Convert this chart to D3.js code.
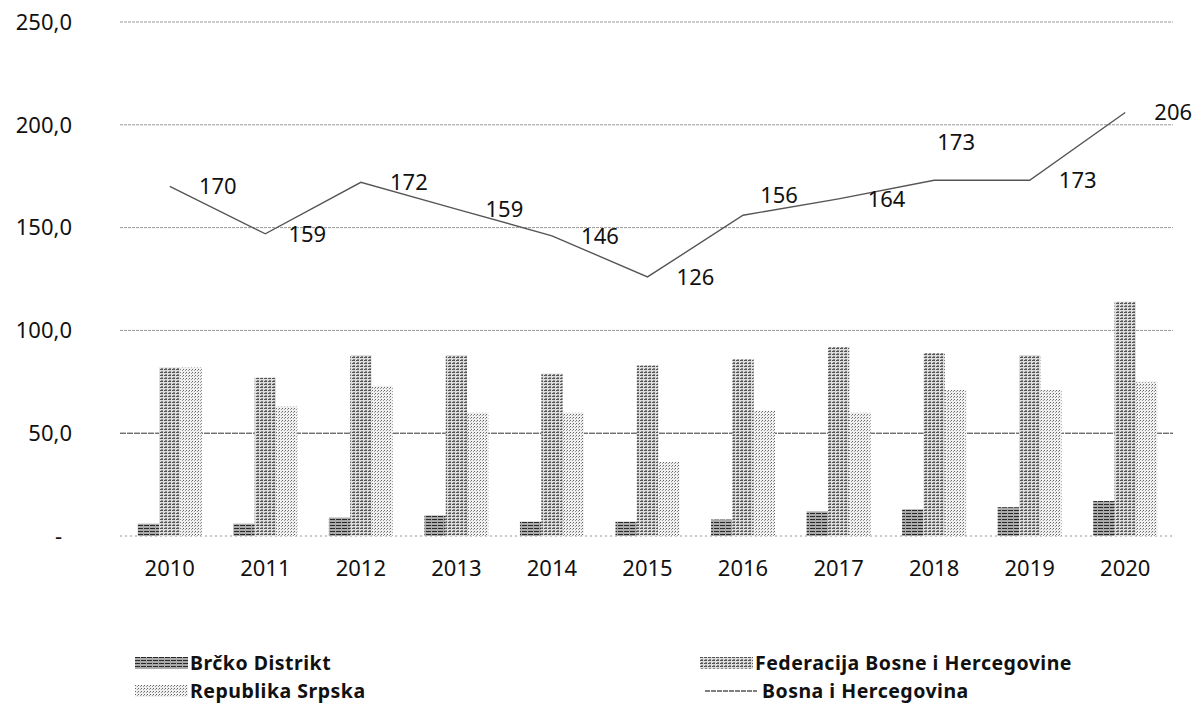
<!DOCTYPE html>
<html lang="bs">
<head>
  <meta charset="UTF-8">
  <title>Bosna i Hercegovina 2010-2020</title>
  <style>
    body {
      margin: 0;
      background: #fff;
    }
    svg {
      display: block;
      font-family: "Noto Sans", sans-serif;
    }
    .tick-label {
      font-size: 22px;
      fill: #111;
    }
    .value-label {
      font-size: 22px;
      fill: #111;
    }
    .legend text {
      font-size: 19.5px;
      font-weight: bold;
      letter-spacing: 0.5px;
      fill: #111;
    }
    .total-line {
      fill: none;
      stroke: #555;
      stroke-width: 1.4px;
    }
  </style>
</head>
<body>
  <svg width="1195" height="705"></svg>
  <script src="https://d3js.org/d3.v7.min.js"></script>
  <script>
    const years = ["2010", "2011", "2012", "2013", "2014", "2015", "2016", "2017", "2018", "2019", "2020"];
    const brcko = [6, 6, 9, 10, 7, 7, 8, 12, 13, 14, 17];
    const federacija = [82, 77, 88, 88, 79, 83, 86, 92, 89, 88, 114];
    const srpska = [82, 63, 73, 60, 60, 36, 61, 60, 71, 71, 75];
    const bih = [170, 147, 172, 159, 146, 126, 156, 164, 173, 173, 206];
    const bihLabels = ["170", "159", "172", "159", "146", "126", "156", "164", "173", "173", "206"];
    const yTicks = [0, 50, 100, 150, 200, 250];

    const series = [
      { name: "Brčko Distrikt", values: brcko, fill: "url(#pat-brcko)" },
      { name: "Federacija Bosne i Hercegovine", values: federacija, fill: "url(#pat-fed)" },
      { name: "Republika Srpska", values: srpska, fill: "url(#pat-rs)" }
    ];

    const svg = d3.select("svg");

    // scanned-looking fills
    const defs = svg.append("defs");
    const brckoPat = defs.append("pattern").attr("id", "pat-brcko")
      .attr("patternUnits", "userSpaceOnUse").attr("width", 6).attr("height", 3);
    brckoPat.append("rect").attr("width", 6).attr("height", 3).attr("fill", "#aaa");
    brckoPat.append("rect").attr("width", 5).attr("height", 1).attr("fill", "#2a2a2a");

    const fedPat = defs.append("pattern").attr("id", "pat-fed")
      .attr("patternUnits", "userSpaceOnUse").attr("width", 4).attr("height", 3);
    fedPat.append("rect").attr("width", 4).attr("height", 3).attr("fill", "#ddd");
    fedPat.append("rect").attr("width", 3).attr("height", 1).attr("fill", "#555");
    fedPat.append("rect").attr("x", 1).attr("y", 2).attr("width", 2).attr("height", 1).attr("fill", "#888");

    const rsPat = defs.append("pattern").attr("id", "pat-rs")
      .attr("patternUnits", "userSpaceOnUse").attr("width", 3).attr("height", 3);
    rsPat.append("rect").attr("width", 3).attr("height", 3).attr("fill", "#f0f0f0");
    rsPat.append("rect").attr("width", 1).attr("height", 1).attr("fill", "#666");
    rsPat.append("rect").attr("x", 2).attr("y", 1).attr("width", 1).attr("height", 1).attr("fill", "#999");

    const x0 = d3.scaleBand().domain(years).range([122, 1173])
      .paddingInner(0.33).paddingOuter(0.165);
    const x1 = d3.scaleBand().domain(series.map(s => s.name)).range([0, x0.bandwidth()]);
    const y = d3.scaleLinear().domain([0, 250]).range([536, 22]);

    // gridlines
    svg.append("g").selectAll("line")
      .data(yTicks)
      .join("line")
      .attr("x1", 120).attr("x2", 1173)
      .attr("y1", d => y(d)).attr("y2", d => y(d))
      .attr("stroke", d => d === 50 ? "#333" : "#999")
      .attr("stroke-width", 1)
      .attr("stroke-dasharray", d => d === 50 ? "6,1" : d === 0 ? "2,3" : "3,1");

    // y labels
    svg.append("g").selectAll("text")
      .data(yTicks)
      .join("text")
      .attr("class", "tick-label")
      .attr("x", d => d === 0 ? 62 : 72)
      .attr("y", d => y(d))
      .attr("dy", "0.35em")
      .attr("text-anchor", "end")
      .text(d => d === 0 ? "-" : d3.format(".1f")(d).replace(".", ","));

    // bars
    const groups = svg.append("g").selectAll("g")
      .data(series)
      .join("g")
      .attr("fill", d => d.fill);

    groups.selectAll("rect")
      .data(s => s.values.map((v, i) => ({ name: s.name, year: years[i], value: v })))
      .join("rect")
      .attr("x", d => x0(d.year) + x1(d.name))
      .attr("width", x1.bandwidth())
      .attr("y", d => y(d.value))
      .attr("height", d => y(0) - y(d.value));

    // x labels
    svg.append("g").selectAll("text")
      .data(years)
      .join("text")
      .attr("class", "tick-label")
      .attr("x", d => x0(d) + x0.bandwidth() / 2)
      .attr("y", 576)
      .attr("text-anchor", "middle")
      .text(d => d);

    // total line
    const cx = (d, i) => x0(years[i]) + x0.bandwidth() / 2;
    const line = d3.line()
      .x(cx)
      .y(d => y(d));

    svg.append("path")
      .datum(bih)
      .attr("class", "total-line")
      .attr("d", line);

    // data labels sit right of the point; a few were moved by hand in the original
    const nudge = { 1: [-6, 0], 6: [-12, -20], 8: [-26, -38] };
    svg.append("g").selectAll("text")
      .data(bih)
      .join("text")
      .attr("class", "value-label")
      .attr("x", (d, i) => cx(d, i) + 48 + (nudge[i] ? nudge[i][0] : 0))
      .attr("y", (d, i) => y(d) + 8 + (nudge[i] ? nudge[i][1] : 0))
      .attr("text-anchor", "middle")
      .text((d, i) => bihLabels[i]);

    // legend
    const legendItems = [
      { name: series[0].name, fill: series[0].fill, x: 135, y: 657 },
      { name: series[1].name, fill: series[1].fill, x: 700, y: 657 },
      { name: series[2].name, fill: series[2].fill, x: 135, y: 685 },
      { name: "Bosna i Hercegovina", line: true, x: 705, y: 685 }
    ];
    const legend = svg.append("g").attr("class", "legend")
      .selectAll("g")
      .data(legendItems)
      .join("g")
      .attr("transform", d => `translate(${d.x},${d.y})`);

    legend.filter(d => !d.line).append("rect")
      .attr("width", 53).attr("height", 12)
      .attr("fill", d => d.fill);

    legend.filter(d => d.line).append("line")
      .attr("x1", 0).attr("x2", 52)
      .attr("y1", 6).attr("y2", 6)
      .attr("stroke", "#555")
      .attr("stroke-width", 1.4)
      .attr("stroke-dasharray", "5,1");

    legend.append("text")
      .attr("x", d => d.line ? 57 : 55)
      .attr("y", 13)
      .text(d => d.name);
  </script>
</body>
</html>
